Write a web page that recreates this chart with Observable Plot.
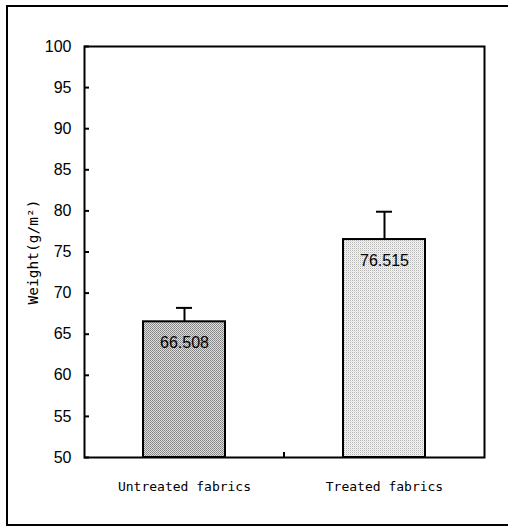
<!DOCTYPE html>
<html>
<head>
<meta charset="utf-8">
<script src="https://cdn.jsdelivr.net/npm/d3@7"></script>
<script src="https://cdn.jsdelivr.net/npm/@observablehq/plot@0.6"></script>
<style>
  html, body { margin: 0; padding: 0; background: #fff; }
  #wrap { position: relative; width: 508px; height: 530px; overflow: hidden; }
  #border { position: absolute; left: 6px; top: 5px; width: 520px; height: 521px;
            border: 2px solid #000; box-sizing: border-box; pointer-events: none; }
  #chart { position: absolute; left: 0; top: 0; }
</style>
</head>
<body>
<div id="wrap">
  <div id="chart"></div>
  <div id="border"></div>
</div>
<script>
const categories = ["Untreated fabrics", "Treated fabrics"];
const means = [66.508, 76.515];
const errorTops = [68.2, 79.9];
const valueLabels = ["66.508", "76.515"];
const yTicks = [50, 55, 60, 65, 70, 75, 80, 85, 90, 95, 100];
const yDomain = [50, 100];
const patterns = ["url(#dotsDark)", "url(#dotsLight)"];

const data = categories.map((c, i) => ({
  cat: c, value: means[i], top: errorTops[i], label: valueLabels[i], fill: patterns[i]
}));

const mono = "'DejaVu Sans Mono', 'Liberation Mono', monospace";
const sans = "'Liberation Sans', Arial, sans-serif";

// small divider tick between the categories at the bottom of the frame
function dividerTick(index, scales, values, dimensions) {
  const x = scales.x;
  const bw = x.bandwidth();
  const xm = (x(categories[0]) + bw + x(categories[1])) / 2;
  const yb = dimensions.height - dimensions.marginBottom;
  const g = document.createElementNS("http://www.w3.org/2000/svg", "g");
  const line = document.createElementNS("http://www.w3.org/2000/svg", "line");
  line.setAttribute("x1", xm); line.setAttribute("x2", xm);
  line.setAttribute("y1", yb); line.setAttribute("y2", yb - 5);
  line.setAttribute("stroke", "#000"); line.setAttribute("stroke-width", 2);
  g.appendChild(line);
  return g;
}

const chart = Plot.plot({
  width: 508,
  height: 530,
  marginLeft: 84,
  marginRight: 24,
  marginTop: 46,
  marginBottom: 73,
  style: { background: "transparent", overflow: "visible" },
  x: { domain: categories, paddingInner: 0.59, paddingOuter: 0.295, label: null },
  y: { domain: yDomain, label: null },
  marks: [
    Plot.barY(data, {x: "cat", y1: yDomain[0], y2: "value", fill: "fill", stroke: "#000", strokeWidth: 2}),
    Plot.ruleX(data, {x: "cat", y1: "value", y2: "top", stroke: "#000", strokeWidth: 2}),
    Plot.tickY(data, {x: "cat", y: "top", stroke: "#000", strokeWidth: 2, insetLeft: 33, insetRight: 33}),
    Plot.text(data, {x: "cat", y: "value", text: "label", dy: 21, fontSize: 16, fontFamily: sans, fill: "#000"}),
    Plot.frame({stroke: "#000", strokeWidth: 2}),
    Plot.axisY({ticks: yTicks, tickSize: 0, tickPadding: 13, fontSize: 16, fontFamily: sans, label: null, color: "#000"}),
    Plot.axisY({ticks: yTicks, tickSize: 5, text: null, dx: 5, strokeWidth: 2, label: null}),
    Plot.axisX({tickSize: 0, tickPadding: 24, fontSize: 13, fontFamily: mono, label: null, color: "#000"}),
    Plot.text(["Weight(g/m²)"], {frameAnchor: "left", textAnchor: "middle", rotate: -90, dx: -51, text: d => d,
                fontSize: 14.5, fontFamily: mono, fill: "#000"}),
    dividerTick
  ]
});

// dot patterns for the bar fills
const ns = "http://www.w3.org/2000/svg";
const defs = document.createElementNS(ns, "defs");
defs.innerHTML = `
  <pattern id="dotsDark" width="2" height="2" patternUnits="userSpaceOnUse">
    <rect width="2" height="2" fill="#e0e0e0"/>
    <rect x="0" y="0" width="1" height="1" fill="#808080"/>
    <rect x="1" y="1" width="1" height="1" fill="#909090"/>
  </pattern>
  <pattern id="dotsLight" width="2" height="2" patternUnits="userSpaceOnUse">
    <rect width="2" height="2" fill="#f4f4f4"/>
    <rect x="0" y="0" width="1" height="1" fill="#b4b4b4"/>
    <rect x="1" y="1" width="1" height="1" fill="#e0e0e0"/>
  </pattern>`;
chart.insertBefore(defs, chart.firstChild);

document.getElementById("chart").appendChild(chart);
</script>
</body>
</html>
